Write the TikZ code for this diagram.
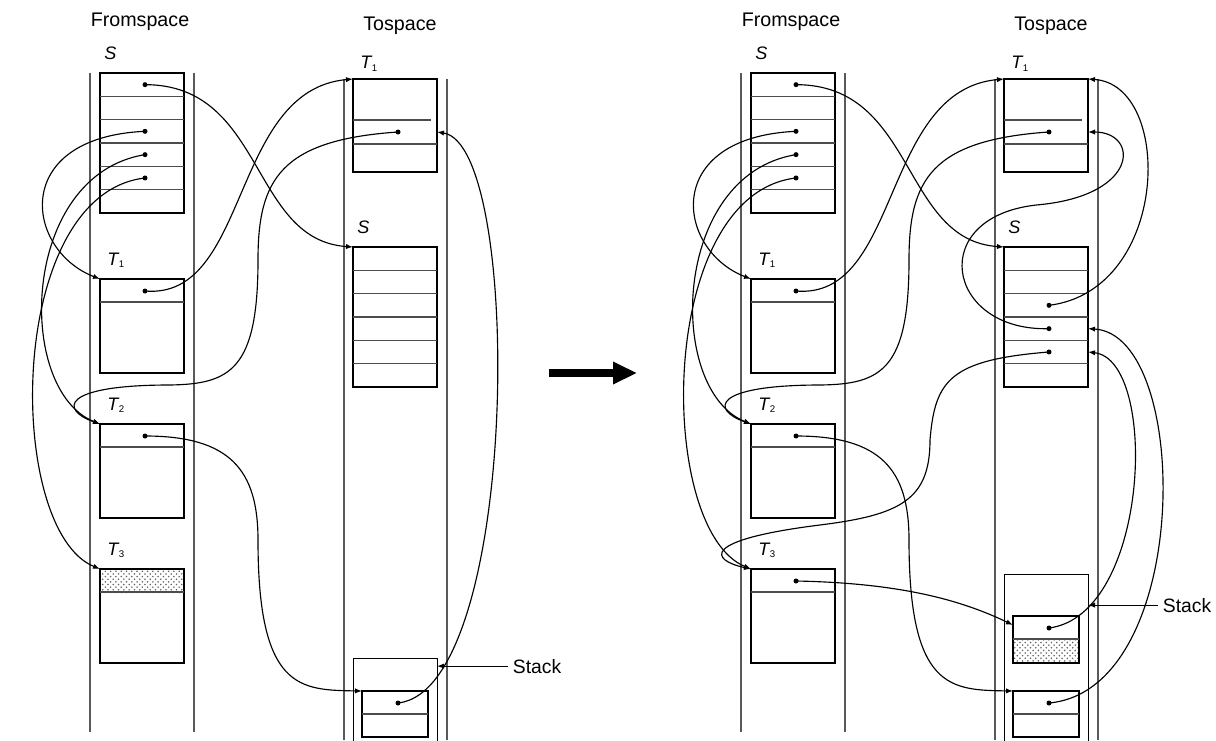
\documentclass[tikz,border=0pt]{standalone}
\usepackage{fontspec}
\setmainfont{Liberation Sans}
\usetikzlibrary{arrows.meta, patterns, backgrounds}
\tikzset{
	space/.style={draw=black!65, line width=0.7pt},
	block/.style={draw, line width=1.6pt, inner sep=0pt, outer sep=0pt, minimum width=1.68cm, anchor=north west},
	stack/.style={draw, line width=0.45pt, inner sep=0pt, outer sep=0pt, minimum width=1.68cm, anchor=north west},
	field/.style={draw=black!70, line width=0.6pt},
	dot/.style={circle, fill, inner sep=0pt, minimum size=0.1cm},
	ptr/.style={line width=0.65pt, -{Latex[length=4pt, width=3pt]}},
	head/.style={font=\fontsize{11.2}{13}\selectfont, inner sep=0pt, anchor=base},
	tag/.style={font=\fontsize{10.3}{12}\selectfont, inner sep=0pt, anchor=base west},
	% stippled field
	shaded/.style={pattern=crosshatch dots, pattern color=black!60},
}
\newcommand{\tname}[1]{\textit{T}\kern-0.3pt\raisebox{-0.3ex}{\fontsize{5.5}{6}\selectfont #1}}

\begin{document}
\begin{tikzpicture}[x=0.02cm, y=-0.02cm]
	\useasboundingbox (0,0) rectangle (1216,740);
	
	%%% before the copy
	\node[head] (lFrom) at (140,27) {Fromspace};
	\node[head] (lTo) at (400,31) {Tospace};
	\draw[space] (90,73) -- (90,732) (194,73) -- (194,732);
	\draw[space] (344,79) -- (344,740) (447,79) -- (447,740);
	
	\node[block, minimum height=2.8cm] (lFS) at (100,73) {};
	\node[block, minimum height=1.88cm] (lFT1) at (100,279) {};
	\node[block, minimum height=1.88cm] (lFT2) at (100,424) {};
	\node[block, minimum height=1.88cm] (lFT3) at (100,569) {};
	\node[block, minimum height=1.86cm] (lTT1) at (353,79) {};
	\node[block, minimum height=2.8cm] (lTS) at (353,247) {};
	\node[stack, minimum height=1.8cm] (lStk) at (353,658) {};
	\node[block, minimum width=1.32cm, minimum height=0.92cm] (lSB) at (362,691) {};
	
	\node[tag] (lFSn) at ([shift={(4,-13)}]lFS.north west) {\textit{S}};
	\node[tag] (lFT1n) at ([shift={(7,-14)}]lFT1.north west) {\tname{1}};
	\node[tag] (lFT2n) at ([shift={(7,-14)}]lFT2.north west) {\tname{2}};
	\node[tag] (lFT3n) at ([shift={(7,-14)}]lFT3.north west) {\tname{3}};
	\node[tag] (lTT1n) at ([shift={(7,-10)}]lTT1.north west) {\tname{1}};
	\node[tag] (lTSn) at ([shift={(4,-14)}]lTS.north west) {\textit{S}};
	
	\foreach \b in {lFS, lTS}
		\foreach \i in {1,...,5}
			\draw[field] ([shift={(0,23.33*\i)}]\b.north west) -- ([shift={(0,23.33*\i)}]\b.north east);
	\foreach \b in {lFT1, lFT2, lFT3, lSB}
		\draw[field] ([shift={(0,23)}]\b.north west) -- ([shift={(0,23)}]\b.north east);
	\draw[field] ([shift={(0,41)}]lTT1.north west) -- ([shift={(-6,41)}]lTT1.north east);
	\draw[field] ([shift={(0,65)}]lTT1.north west) -- ([shift={(0,65)}]lTT1.north east);
	
	\begin{scope}[on background layer]
		\fill[shaded] (lFT3.north west) rectangle ([shift={(0,24)}]lFT3.north east);
	\end{scope}
	
	\foreach \i in {1,3,4,5}
		\node[dot] (lFS\i) at ([shift={(45,23.33*\i-11.67)}]lFS.north west) {};
	\node[dot] (lFT1d) at ([shift={(45,12)}]lFT1.north west) {};
	\node[dot] (lFT2d) at ([shift={(45,12)}]lFT2.north west) {};
	\node[dot] (lTT1d) at ([shift={(45,53)}]lTT1.north west) {};
	\node[dot] (lSBd) at ([shift={(36,12)}]lSB.north west) {};
	
	\node[tag, font=\fontsize{11}{13}\selectfont, outer sep=2.8pt] (lStkT) at (508,673) {Stack};
	
	\begin{scope}[ptr]
		\draw (lFS1.center) .. controls +(120,0) and +(-103,-7) .. (lTS.north west);
		\draw (lFS3.center) .. controls +(-135,6) and +(-75,-29) .. (lFT1.north west);
		\draw (lFS4.center) .. controls +(-125,20) and +(-85,-34) .. (lFT2.north west);
		\draw (lFS5.center) .. controls +(-140,16) and +(-95,-39) .. (lFT3.north west);
		\draw (lFT1d.center) .. controls +(105,9) and +(-123,11) .. (lTT1.north west);
		\draw (lTT1d.center) .. controls +(-118,8) and +(0,-80) .. ++(-140,128)
			.. controls +(0,110) and +(60,-1) .. ++(-88,125)
			.. controls +(-110,0) and +(-40,-14) .. (lFT2.north west);
		\draw (lFT2d.center) .. controls +(85,0) and +(0,-70) .. ++(113,104)
			.. controls +(0,150) and +(-62,-1) .. (lSB.north west);
		\draw (lSBd.center) .. controls +(122,-13) and +(87,13) .. (lTT1.east |- lTT1d);
		\draw (lStkT) -- (lStkT -| lStk.east);
	\end{scope}
	
	% big arrow between the two states
	\coordinate (goA) at (549,373);
	\coordinate (goB) at (637,373);
	\draw[line width=4.2pt, -{Triangle[length=13.6pt, width=12pt]}] (goA) -- (goB);
	
	%%% after the copy
	\node[head] (rFrom) at (791,27) {Fromspace};
	\node[head] (rTo) at (1051,31) {Tospace};
	\draw[space] (741,73) -- (741,732) (845,73) -- (845,732);
	\draw[space] (995,79) -- (995,740) (1098,79) -- (1098,740);
	
	\node[block, minimum height=2.8cm] (rFS) at (751,73) {};
	\node[block, minimum height=1.88cm] (rFT1) at (751,279) {};
	\node[block, minimum height=1.88cm] (rFT2) at (751,424) {};
	\node[block, minimum height=1.88cm] (rFT3) at (751,569) {};
	\node[block, minimum height=1.86cm] (rTT1) at (1004,79) {};
	\node[block, minimum height=2.8cm] (rTS) at (1004,247) {};
	\node[stack, minimum height=3.5cm] (rStk) at (1004,574) {};
	\node[block, minimum width=1.32cm, minimum height=0.94cm] (rSB1) at (1013,616) {};
	\node[block, minimum width=1.32cm, minimum height=0.92cm] (rSB2) at (1013,691) {};
	
	\node[tag] (rFSn) at ([shift={(4,-13)}]rFS.north west) {\textit{S}};
	\node[tag] (rFT1n) at ([shift={(7,-14)}]rFT1.north west) {\tname{1}};
	\node[tag] (rFT2n) at ([shift={(7,-14)}]rFT2.north west) {\tname{2}};
	\node[tag] (rFT3n) at ([shift={(7,-14)}]rFT3.north west) {\tname{3}};
	\node[tag] (rTT1n) at ([shift={(7,-10)}]rTT1.north west) {\tname{1}};
	\node[tag] (rTSn) at ([shift={(4,-14)}]rTS.north west) {\textit{S}};
	
	\foreach \b in {rFS, rTS}
		\foreach \i in {1,...,5}
			\draw[field] ([shift={(0,23.33*\i)}]\b.north west) -- ([shift={(0,23.33*\i)}]\b.north east);
	\foreach \b in {rFT1, rFT2, rFT3, rSB1, rSB2}
		\draw[field] ([shift={(0,23)}]\b.north west) -- ([shift={(0,23)}]\b.north east);
	\draw[field] ([shift={(0,41)}]rTT1.north west) -- ([shift={(-6,41)}]rTT1.north east);
	\draw[field] ([shift={(0,65)}]rTT1.north west) -- ([shift={(0,65)}]rTT1.north east);
	
	\begin{scope}[on background layer]
		\fill[shaded] ([shift={(0,23)}]rSB1.north west) rectangle (rSB1.south east);
	\end{scope}
	
	\foreach \i in {1,3,4,5}
		\node[dot] (rFS\i) at ([shift={(45,23.33*\i-11.67)}]rFS.north west) {};
	\foreach \i in {3,4,5}
		\node[dot] (rTS\i) at ([shift={(45,23.33*\i-11.67)}]rTS.north west) {};
	\node[dot] (rFT1d) at ([shift={(45,12)}]rFT1.north west) {};
	\node[dot] (rFT2d) at ([shift={(45,12)}]rFT2.north west) {};
	\node[dot] (rFT3d) at ([shift={(45,12)}]rFT3.north west) {};
	\node[dot] (rTT1d) at ([shift={(45,53)}]rTT1.north west) {};
	\node[dot] (rSB1d) at ([shift={(36,12)}]rSB1.north west) {};
	\node[dot] (rSB2d) at ([shift={(36,12)}]rSB2.north west) {};
	\coordinate (rSB1a) at ([shift={(0,9)}]rSB1.north west);
	
	\node[tag, font=\fontsize{11}{13}\selectfont, outer sep=2.8pt] (rStkT) at (1158,612) {Stack};
	
	\begin{scope}[ptr]
		\draw (rFS1.center) .. controls +(120,0) and +(-103,-7) .. (rTS.north west);
		\draw (rFS3.center) .. controls +(-135,6) and +(-75,-29) .. (rFT1.north west);
		\draw (rFS4.center) .. controls +(-125,20) and +(-85,-34) .. (rFT2.north west);
		\draw (rFS5.center) .. controls +(-140,16) and +(-95,-39) .. (rFT3.north west);
		\draw (rFT1d.center) .. controls +(105,9) and +(-123,11) .. (rTT1.north west);
		\draw (rTT1d.center) .. controls +(-118,8) and +(0,-80) .. ++(-140,128)
			.. controls +(0,110) and +(60,-1) .. ++(-88,125)
			.. controls +(-110,0) and +(-40,-14) .. (rFT2.north west);
		\draw (rFT2d.center) .. controls +(85,0) and +(0,-70) .. ++(113,104)
			.. controls +(0,150) and +(-62,-1) .. (rSB2.north west);
		\draw (rFT3d.center) .. controls +(104,2) and +(-52,-25) .. (rSB1a);
		\draw (rTS3.center) .. controls +(121,-15) and +(86,6) .. (rTT1.north east);
		\draw (rTS4.center) .. controls +(-104,3) and +(-115,10) .. ++(-9,-124)
			.. controls +(100,-10) and +(51,0) .. (rTT1.east |- rTT1d);
		\draw (rTS5.center) .. controls +(-99,8) and +(5,-60) .. ++(-119,88)
			.. controls +(0,60) and +(80,-10) .. ++(-110,85)
			.. controls +(-120,15) and +(-41,-9) .. (rFT3.north west);
		\draw (rSB1d.center) .. controls +(101,-13) and +(71,8) .. (rTS.east |- rTS5);
		\draw (rSB2d.center) .. controls +(144,-13) and +(104,6) .. (rTS.east |- rTS4);
		\draw (rStkT) -- (rStkT -| rStk.east);
	\end{scope}
	
\end{tikzpicture}
\end{document}
